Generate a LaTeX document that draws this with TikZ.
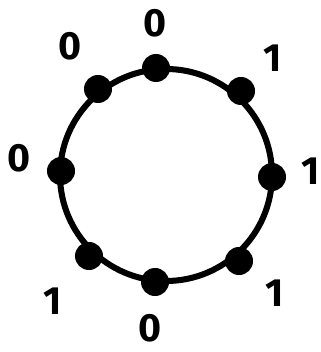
\documentclass[tikz,border=0pt]{standalone}
\usepackage{fontspec}
\setsansfont{Fira Sans}
\usetikzlibrary{positioning}
\tikzset{
    ring/.style={draw=black, line width=4.3pt},
    bead/.style={circle, fill=black, inner sep=0pt, minimum size=0.7cm},
    bit/.style={font=\sffamily\bfseries\fontsize{28}{28}\selectfont, inner sep=0pt},
}

\begin{document}
\begin{tikzpicture}[x=0.025cm, y=-0.025cm]
    \useasboundingbox (0,0) rectangle (320,352);

    % Il cerchio
    \coordinate (centre) at (166,175);
    \draw[ring] (centre) circle (106);

    % I punti sul cerchio
    \node[bead] (pN)  at (156,68)  {};
    \node[bead] (pNW) at (98,89)   {};
    \node[bead] (pNE) at (241,91)  {};
    \node[bead] (pW)  at (61,171)  {};
    \node[bead] (pE)  at (272,177) {};
    \node[bead] (pSW) at (89,256)  {};
    \node[bead] (pSE) at (239,261) {};
    \node[bead] (pS)  at (155,282) {};

    % Le etichette
    \node[bit] (bN)  at (155,23)  {0};
    \node[bit] (bNW) at (70,46)   {0};
    \node[bit] (bNE) at (273,58)  {1};
    \node[bit] (bW)  at (19,158)  {0};
    \node[bit] (bE)  at (311,171) {1};
    \node[bit] (bSW) at (53,301)  {1};
    \node[bit] (bSE) at (275,293) {1};
    \node[bit] (bS)  at (150,328) {0};
\end{tikzpicture}
\end{document}
